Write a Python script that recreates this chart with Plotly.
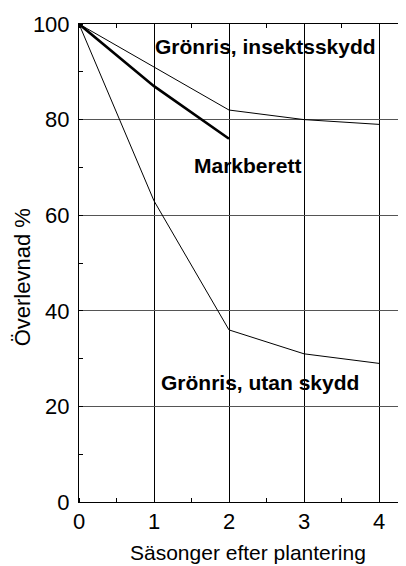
import plotly.graph_objects as go

seasons = [0, 1, 2, 3, 4]
gronris_insekt = [100, 91, 82, 80, 79]
markberett_x = [0, 1, 2]
markberett = [100, 87, 76]
gronris_utan = [100, 63, 36, 31, 29]

x_ticks = [0, 1, 2, 3, 4]
y_ticks = [0, 20, 40, 60, 80, 100]

font_family = "Liberation Sans, Arial, sans-serif"

fig = go.Figure()
fig.add_trace(go.Scatter(x=seasons, y=gronris_insekt, mode="lines",
                         line=dict(color="black", width=1), name="Grönris, insektsskydd"))
fig.add_trace(go.Scatter(x=markberett_x, y=markberett, mode="lines",
                         line=dict(color="black", width=2.6), name="Markberett"))
fig.add_trace(go.Scatter(x=seasons, y=gronris_utan, mode="lines",
                         line=dict(color="black", width=1), name="Grönris, utan skydd"))

labels = [
    ("Grönris, insektsskydd", 2.48, 95.2),
    ("Markberett", 2.25, 70.3),
    ("Grönris, utan skydd", 2.41, 25.1),
]
for text, x, y in labels:
    fig.add_annotation(x=x, y=y, text="<b>" + text + "</b>", showarrow=False,
                       font=dict(family=font_family, size=21, color="black"),
                       xanchor="center", yanchor="middle")

# axis titles
fig.add_annotation(xref="paper", yref="paper", x=0.517, y=0, yshift=-50,
                   text="Säsonger efter plantering", showarrow=False,
                   font=dict(family=font_family, size=21, color="black"),
                   xanchor="center", yanchor="middle")
fig.add_annotation(xref="paper", yref="paper", x=0, xshift=-57, y=0.47,
                   text="Överlevnad %", showarrow=False, textangle=-90,
                   font=dict(family=font_family, size=22, color="black"),
                   xanchor="center", yanchor="middle")

fig.update_xaxes(range=[0, 4.36], tickvals=x_ticks, showgrid=True, gridcolor="black", gridwidth=1,
                 showline=True, linecolor="black", linewidth=1, mirror="ticks",
                 ticks="", zeroline=False, automargin=False, ticklabelstandoff=0,
                 minor=dict(dtick=0.5, ticks="inside", ticklen=4, tickcolor="black", showgrid=False),
                 tickfont=dict(family=font_family, size=22, color="black"))
fig.update_yaxes(range=[0, 100], tickvals=y_ticks, showgrid=True, gridcolor="#555555", gridwidth=1,
                 showline=True, linecolor="black", linewidth=1,
                 ticks="", zeroline=False, automargin=False, ticklabelstandoff=4,
                 minor=dict(dtick=10, ticks="inside", ticklen=4, tickcolor="black", showgrid=False),
                 tickfont=dict(family=font_family, size=22, color="black"))

# page body has an 8px margin, so the figure is offset by 8px
fig.update_layout(width=398, height=558, margin=dict(l=71, r=0, t=16, b=64),
                  plot_bgcolor="white", paper_bgcolor="white", showlegend=False)

fig.write_html("out.html")
